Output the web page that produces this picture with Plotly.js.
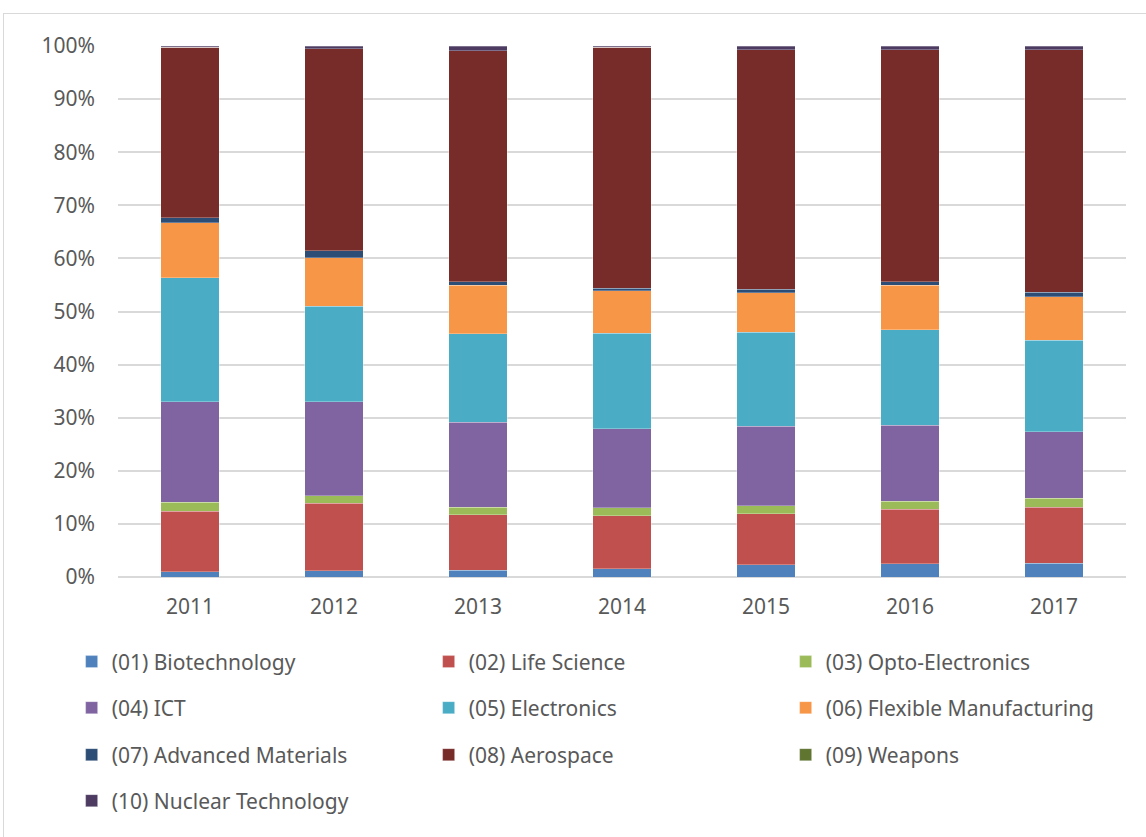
<!DOCTYPE html>
<html>
<head>
<meta charset="utf-8">
<script src="https://cdn.plot.ly/plotly-3.0.1.min.js"></script>
<style>
  html, body { margin: 0; padding: 0; background: #fff; overflow: hidden; }
  #chart { width: 1146px; height: 837px; }
  #frame { position: absolute; left: 3px; top: 13px; width: 1200px; height: 900px;
           border: 1.5px solid #d9d9d9; pointer-events: none; box-sizing: border-box; }
</style>
</head>
<body>
<div id="chart"></div>
<div id="frame"></div>
<script>
const years = ['2011', '2012', '2013', '2014', '2015', '2016', '2017'];

const biotechnology      = [1.0, 1.2, 1.3, 1.6, 2.3, 2.5, 2.6];
const lifeScience        = [11.4, 12.7, 10.4, 9.9, 9.6, 10.3, 10.5];
const optoElectronics    = [1.7, 1.4, 1.4, 1.5, 1.5, 1.5, 1.7];
const ict                = [18.9, 17.7, 16.0, 14.9, 15.0, 14.3, 12.6];
const electronics        = [23.4, 18.0, 16.7, 18.0, 17.7, 18.0, 17.2];
const flexibleMfg        = [10.3, 9.1, 9.1, 8.0, 7.4, 8.3, 8.2];
const advancedMaterials  = [1.0, 1.3, 0.7, 0.5, 0.7, 0.7, 0.8];
const aerospace          = [32.05, 38.1, 43.5, 45.35, 45.1, 43.7, 45.7];
const weapons            = [0.0, 0.0, 0.0, 0.0, 0.0, 0.0, 0.0];
const nuclearTechnology  = [0.25, 0.5, 0.9, 0.25, 0.7, 0.7, 0.7];

const seriesNames = ['(01) Biotechnology', '(02) Life Science', '(03) Opto-Electronics',
  '(04) ICT', '(05) Electronics', '(06) Flexible Manufacturing',
  '(07) Advanced Materials', '(08) Aerospace', '(09) Weapons', '(10) Nuclear Technology'];
const seriesValues = [biotechnology, lifeScience, optoElectronics, ict, electronics,
  flexibleMfg, advancedMaterials, aerospace, weapons, nuclearTechnology];
const seriesColors = ['#4F81BD', '#C0504D', '#9BBB59', '#8064A2', '#4BACC6',
  '#F79646', '#2C4D75', '#772C2A', '#5F7530', '#4D3B62'];
const legendIds = ['legend', 'legend', 'legend', 'legend2', 'legend2', 'legend2',
  'legend3', 'legend3', 'legend3', 'legend4'];

const traces = seriesNames.map((name, i) => ({
  type: 'bar',
  name: name,
  x: years,
  y: seriesValues[i],
  legend: legendIds[i],
  marker: { color: seriesColors[i], line: { color: 'rgba(255,255,255,0.35)', width: 0.8 } },
  hoverinfo: 'x+y+name'
}));

const FONT = 'Noto Sans, sans-serif';
const legendFont = { family: FONT, size: 21, color: '#595959' };
function mkLegend(y) {
  return {
    orientation: 'h', x: -0.046, xanchor: 'left', y: y, yanchor: 'middle',
    xref: 'paper', yref: 'paper', font: legendFont, entrywidth: 312, entrywidthmode: 'pixels',
    traceorder: 'normal', bgcolor: 'rgba(0,0,0,0)', borderwidth: 0
  };
}

const layout = {
  width: 1146, height: 837,
  margin: { l: 118, r: 20, t: 46, b: 260, autoexpand: false },
  paper_bgcolor: '#ffffff', plot_bgcolor: '#ffffff',
  barmode: 'stack', barnorm: 'percent', bargap: 0.597,
  font: { family: FONT, size: 21, color: '#595959' },
  xaxis: {
    type: 'category', showgrid: false, zeroline: false, showline: false,
    ticks: '', ticklabelstandoff: 15,
    tickfont: { family: FONT, size: 21, color: '#595959' }
  },
  yaxis: {
    range: [0, 100], dtick: 10, ticksuffix: '%', showgrid: true,
    gridcolor: '#d9d9d9', gridwidth: 1.5, zeroline: true, zerolinecolor: '#d9d9d9',
    zerolinewidth: 1.5, showline: false, ticks: '', ticklabelstandoff: 22,
    tickfont: { family: FONT, size: 21, color: '#595959' }
  },
  legend: mkLegend(-0.160),
  legend2: mkLegend(-0.2467),
  legend3: mkLegend(-0.3352),
  legend4: mkLegend(-0.4218),
  showlegend: true
};

Plotly.newPlot('chart', traces, layout, { displayModeBar: false });
</script>
</body>
</html>
